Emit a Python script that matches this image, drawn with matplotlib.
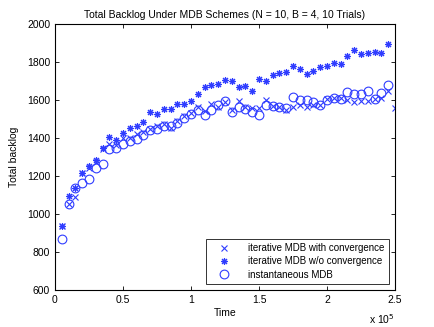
import numpy as np
import matplotlib
matplotlib.use('Agg')
import matplotlib.pyplot as plt

plt.rcParams['font.family'] = ['Liberation Sans', 'DejaVu Sans']

# time axis: samples every 5000 slots
time_with = np.arange(1, 51) * 5000
time_other = np.arange(1, 50) * 5000

with_conv = [935, 1053, 1091, 1214, 1240, 1275, 1340, 1370, 1365, 1398,
             1400, 1420, 1430, 1445, 1463, 1472, 1451, 1491, 1516, 1530,
             1563, 1540, 1578, 1561, 1590, 1550, 1597, 1561, 1556, 1556,
             1600, 1566, 1561, 1547, 1565, 1574, 1565, 1574, 1574, 1605,
             1612, 1609, 1600, 1589, 1596, 1596, 1605, 1611, 1647, 1556]

wo_conv = [935, 1096, 1138, 1216, 1255, 1284, 1346, 1408, 1389, 1428,
           1455, 1461, 1486, 1535, 1529, 1551, 1551, 1580, 1578, 1596,
           1634, 1667, 1679, 1686, 1704, 1702, 1666, 1676, 1649, 1712,
           1702, 1731, 1744, 1749, 1781, 1763, 1739, 1751, 1774, 1777,
           1793, 1788, 1832, 1863, 1842, 1847, 1854, 1846, 1893]

instantaneous = [870, 1053, 1138, 1166, 1184, 1240, 1263, 1340, 1345, 1370,
                 1383, 1396, 1416, 1440, 1448, 1465, 1465, 1480, 1503, 1525,
                 1547, 1522, 1546, 1572, 1593, 1538, 1561, 1551, 1537, 1521,
                 1573, 1568, 1562, 1560, 1614, 1600, 1600, 1588, 1574, 1600,
                 1609, 1605, 1644, 1632, 1632, 1646, 1605, 1639, 1681]

labels = ['iterative MDB with convergence',
          'iterative MDB w/o convergence',
          'instantaneous MDB']

xticks = [0, 50000, 100000, 150000, 200000, 250000]
xtick_labels = ['0', '0.5', '1', '1.5', '2', '2.5']
yticks = [600, 800, 1000, 1200, 1400, 1600, 1800, 2000]

fig = plt.figure(figsize=(4.35, 3.27), dpi=100)
ax = fig.add_axes([0.1264, 0.113, 0.7816, 0.8135])

blue = '#2f3cff'
ax.plot(time_with, with_conv, linestyle='none', marker='x', color=blue,
        markersize=4, markeredgewidth=0.8, label=labels[0])
ax.plot(time_other, wo_conv, linestyle='none', marker=(8, 2, 0), color=blue,
        markersize=5, markeredgewidth=0.8, label=labels[1])
ax.plot(time_other, instantaneous, linestyle='none', marker='o', color=blue,
        markerfacecolor='none', markersize=6.3, markeredgewidth=0.8, label=labels[2])

ax.set_xlim(0, 250000)
ax.set_ylim(600, 2000)
ax.set_xticks(xticks)
ax.set_xticklabels(xtick_labels)
ax.set_yticks(yticks)
ax.tick_params(direction='in', top=True, right=True, labelsize=7.5,
               length=3, width=0.6)
for s in ax.spines.values():
    s.set_linewidth(0.8)

ax.set_title('Total Backlog Under MDB Schemes (N = 10, B = 4, 10 Trials)',
             fontsize=7.5, pad=4)
ax.set_xlabel('Time', fontsize=7.5, labelpad=2)
ax.set_ylabel('Total backlog', fontsize=7.5, labelpad=6)
ax.text(1.0, -0.085, r'x 10$^5$', transform=ax.transAxes, fontsize=7.5,
        ha='right', va='top')

leg = ax.legend(loc='lower right', fontsize=7, frameon=True, fancybox=False,
                borderpad=0.45, labelspacing=0.35, handlelength=2.8,
                handletextpad=1.1, borderaxespad=0.6)
leg.get_frame().set_edgecolor('black')
leg.get_frame().set_linewidth(0.7)

fig.savefig('out.png', dpi=100)
